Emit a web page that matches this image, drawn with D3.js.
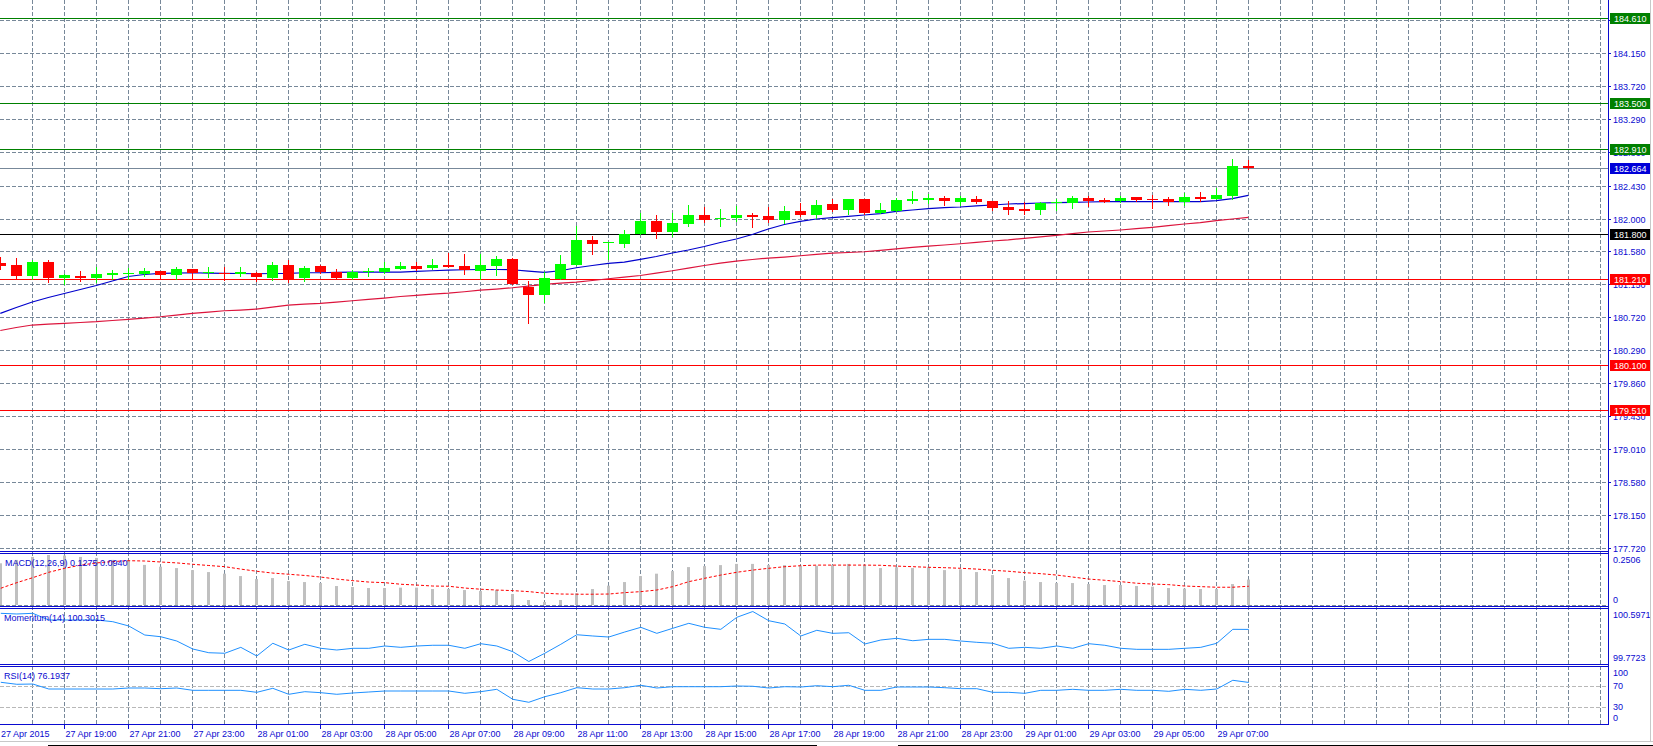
<!DOCTYPE html>
<html><head><meta charset="utf-8">
<script src="https://cdn.jsdelivr.net/npm/d3@7"></script>
<style>
html,body{margin:0;padding:0;background:#fff;overflow:hidden}
svg{display:block;font-family:"Liberation Sans",Arial,sans-serif;font-size:9px}
</style></head><body>
<svg id="c" width="1653" height="746"></svg>
<script>
// ---------------- DATA ----------------
const openP = [181.423,181.396,181.253,181.435,181.231,181.253,181.231,181.266,181.283,181.279,
 181.318,181.266,181.348,181.288,181.288,181.276,181.296,181.231,181.396,181.231,
 181.388,181.305,181.231,181.301,181.305,181.344,181.388,181.361,181.396,181.388,
 181.318,181.388,181.474,181.106,181.006,181.214,181.396,181.722,181.683,181.673,
 181.804,181.969,181.830,181.930,182.047,181.991,182.008,182.047,182.034,181.986,
 182.099,182.047,182.190,182.112,182.255,182.077,182.099,182.229,182.242,182.268,
 182.220,182.255,182.229,182.151,182.125,182.112,182.203,182.199,182.268,182.242,
 182.229,182.281,182.255,182.255,182.212,182.281,182.255,182.298,182.684];
const highP = [181.505,181.491,181.458,181.461,181.276,181.318,181.367,181.331,181.361,181.357,
 181.325,181.370,181.348,181.374,181.374,181.374,181.309,181.439,181.461,181.383,
 181.396,181.344,181.331,181.361,181.439,181.431,181.439,181.474,181.553,181.539,
 181.539,181.513,181.487,181.188,181.309,181.526,181.908,181.774,181.692,181.852,
 182.069,182.047,182.069,182.177,182.151,182.125,182.164,182.069,182.151,182.164,
 182.199,182.242,182.251,182.255,182.255,182.207,182.264,182.359,182.316,182.294,
 182.298,182.298,182.229,182.229,182.222,182.220,182.255,182.294,182.294,182.268,
 182.298,182.281,182.307,182.281,182.339,182.350,182.398,182.775,182.768];
const lowP = [181.341,181.231,181.218,181.179,181.149,181.188,181.179,181.210,181.210,181.253,
 181.210,181.210,181.210,181.236,181.201,181.257,181.188,181.201,181.179,181.192,
 181.292,181.227,181.221,181.257,181.299,181.340,181.338,181.344,181.370,181.283,
 181.210,181.266,181.149,180.646,180.919,181.214,181.396,181.536,181.474,181.634,
 181.800,181.754,181.774,181.904,181.960,181.904,181.965,181.887,181.952,181.939,
 182.038,182.012,182.099,182.060,182.060,182.077,182.099,182.207,182.199,182.177,
 182.177,182.199,182.112,182.064,182.064,182.060,182.112,182.142,182.170,182.216,
 182.216,182.229,182.138,182.177,182.177,182.229,182.255,182.255,182.641];
const closeP = [181.388,181.253,181.435,181.231,181.266,181.231,181.279,181.292,181.292,181.318,
 181.266,181.348,181.296,181.301,181.283,181.309,181.236,181.396,181.210,181.361,
 181.305,181.231,181.305,181.318,181.361,181.388,181.344,181.396,181.370,181.327,
 181.396,181.474,181.149,181.010,181.231,181.409,181.722,181.673,181.692,181.796,
 181.969,181.830,181.943,182.047,181.986,182.008,182.047,182.021,181.986,182.099,
 182.047,182.177,182.112,182.255,182.077,182.112,182.242,182.255,182.268,182.233,
 182.268,182.220,182.142,182.116,182.099,182.203,182.220,182.268,182.229,182.216,
 182.268,182.242,182.246,182.212,182.281,182.255,182.307,182.684,182.664];
const maFast = [180.768,180.844,180.915,180.974,181.026,181.078,181.130,181.188,181.247,181.273,
 181.288,181.292,181.296,181.292,181.288,181.286,181.283,181.286,181.288,181.296,
 181.296,181.301,181.305,181.305,181.305,181.305,181.315,181.322,181.331,181.335,
 181.338,181.338,181.335,181.318,181.301,181.322,181.361,181.390,181.419,181.435,
 181.471,181.507,181.553,181.592,181.637,181.689,181.735,181.793,181.865,181.923,
 181.965,181.995,182.014,182.030,182.047,182.066,182.095,182.112,182.129,182.142,
 182.151,182.166,182.177,182.190,182.196,182.203,182.207,182.212,182.216,182.220,
 182.220,182.220,182.220,182.220,182.220,182.220,182.235,182.261,182.303];
const maSlow = [180.545,180.584,180.616,180.629,180.638,180.649,180.659,180.675,180.690,180.707,
 180.724,180.746,180.768,180.785,180.802,180.811,180.824,180.850,180.876,180.889,
 180.898,180.915,180.932,180.950,180.967,180.987,181.002,181.017,181.030,181.049,
 181.069,181.084,181.101,181.123,181.145,181.162,181.175,181.195,181.218,181.240,
 181.260,181.292,181.322,181.357,181.390,181.422,181.448,181.468,181.487,181.500,
 181.517,181.536,181.550,181.559,181.569,181.588,181.607,181.627,181.643,181.657,
 181.673,181.692,181.709,181.724,181.744,181.763,181.783,181.804,181.826,181.839,
 181.852,181.869,181.887,181.908,181.930,181.949,181.973,181.995,182.017];
const macdMain = [0.209,0.226,0.241,0.2506,0.248,0.241,0.236,0.226,0.222,0.201,
 0.192,0.185,0.175,0.165,0.157,0.145,0.130,0.135,0.120,0.115,
 0.110,0.095,0.090,0.085,0.085,0.087,0.087,0.080,0.080,0.075,
 0.070,0.075,0.055,0.025,0.015,0.025,0.059,0.080,0.097,0.115,
 0.145,0.157,0.170,0.190,0.195,0.200,0.206,0.206,0.200,0.200,
 0.197,0.197,0.200,0.206,0.197,0.185,0.189,0.185,0.189,0.175,
 0.179,0.165,0.150,0.135,0.122,0.115,0.110,0.110,0.105,0.100,
 0.100,0.095,0.092,0.085,0.082,0.080,0.080,0.105,0.1275];
const macdSignal = [0.084,0.112,0.137,0.164,0.184,0.200,0.211,0.218,0.222,0.2205,
 0.2155,0.211,0.204,0.198,0.192,0.180,0.169,0.160,0.154,0.148,
 0.140,0.130,0.122,0.115,0.112,0.104,0.100,0.095,0.094,0.085,
 0.079,0.075,0.072,0.067,0.059,0.055,0.054,0.054,0.055,0.062,
 0.067,0.075,0.092,0.117,0.134,0.150,0.164,0.175,0.184,0.192,
 0.197,0.200,0.200,0.200,0.200,0.199,0.195,0.192,0.189,0.187,
 0.184,0.180,0.174,0.169,0.162,0.157,0.150,0.140,0.130,0.124,
 0.117,0.109,0.105,0.102,0.095,0.092,0.089,0.089,0.094];
const momentum = [100.567,100.556,100.567,100.457,100.457,100.457,100.457,100.429,100.358,100.209,
 100.181,100.110,99.978,99.917,99.908,100.006,99.863,100.073,99.962,100.056,
 99.990,99.962,99.990,99.990,100.028,100.006,100.028,100.040,100.040,99.990,
 100.066,100.028,99.934,99.7723,99.908,100.056,100.214,100.193,100.176,100.259,
 100.336,100.237,100.320,100.402,100.336,100.303,100.501,100.5971,100.445,100.391,
 100.193,100.287,100.237,100.247,100.061,100.127,100.155,100.115,100.138,100.138,
 100.110,100.089,100.073,99.990,100.006,99.990,100.028,99.990,100.066,100.040,
 99.990,99.973,99.973,99.973,99.990,100.006,100.073,100.303,100.3015];
const rsi = [76.5,72.7,73.2,63.7,63.7,63.7,63.7,63.7,65.6,65.6,
 64.3,65.6,61.2,61.2,61.2,61.2,57.4,65.0,53.6,58.6,
 56.7,53.6,56.1,58.0,59.9,59.9,59.9,59.9,59.9,55.5,
 58.6,63.1,44.1,38.4,49.0,56.7,66.2,63.7,63.7,66.2,
 70.8,65.6,68.1,68.1,68.1,68.1,69.4,68.9,65.6,68.1,
 67.5,70.0,68.1,70.8,61.2,61.2,67.5,67.5,67.5,66.2,
 64.3,64.3,57.4,57.4,55.5,61.2,61.2,63.1,61.2,61.2,
 63.1,61.2,61.2,59.3,63.1,61.2,63.7,80.3,76.19];

const priceTicks = ["177.720","178.150","178.580","179.010","179.430","179.860","180.290","180.720",
 "181.150","181.580","182.000","182.430","182.860","183.290","183.720","184.150","184.580"];
const levelValues = [184.610, 183.500, 182.910, 182.664, 181.800, 181.210, 180.100, 179.510];
const levelKinds  = ["g","g","g","bid","k","r","r","r"];
const timeLabelBars = [4,8,12,16,20,24,28,32,36,40,44,48,52,56,60,64,68,72,76];
const timeLabels = ["27 Apr 19:00","27 Apr 21:00","27 Apr 23:00","28 Apr 01:00","28 Apr 03:00",
 "28 Apr 05:00","28 Apr 07:00","28 Apr 09:00","28 Apr 11:00","28 Apr 13:00","28 Apr 15:00",
 "28 Apr 17:00","28 Apr 19:00","28 Apr 21:00","28 Apr 23:00","29 Apr 01:00","29 Apr 03:00",
 "29 Apr 05:00","29 Apr 07:00"];
const firstDateLabel = "27 Apr 2015";
const macdTitle = "MACD(12,26,9) 0.1275 0.0940";
const momTitle = "Momentum(14) 100.3015";
const rsiTitle = "RSI(14) 76.1937";
const macdScaleLabels = ["0.2506","0"];
const momScaleLabels = ["100.5971","99.7723"];
const rsiLevels = [100,70,30,0];

// ---------------- STYLE / LAYOUT ----------------
const AX = "#0a0ad0";
const GRID = "#778899";
const levelStyle = {g:{line:"#008000",box:"#008000"}, bid:{line:"#778899",box:"#0000d8"},
  k:{line:"#000000",box:"#000000"}, r:{line:"#ff0000",box:"#ff0000"}};
const plotR = 1608;
const P = {main:[0,551], macd:[553.5,606], mom:[608.5,664], rsi:[666.5,724]};

const svg = d3.select("#c");
const n = closeP.length;
const idx = d3.range(n);
const x = d3.scaleLinear().domain([0,100]).range([0.3,1600.3]);
const y = d3.scaleLinear().domain([177.72,184.15]).range([547.7,53.3]);
const yMacd = d3.scaleLinear().domain([0,0.2506]).range([605,555]);
const yMom = d3.scaleLinear().domain([99.7723,100.5971]).range([661.5,611.5]);
const yRsi = d3.scaleLinear().domain([0,100]).range([722.45,669.95]);
const xs = i => Math.round(x(i));

const defs = svg.append("defs");
defs.append("clipPath").attr("id","cm").append("rect").attr("x",0).attr("y",0).attr("width",plotR).attr("height",551);
defs.append("clipPath").attr("id","cp").append("rect").attr("x",0).attr("y",0).attr("width",plotR).attr("height",746);

// grid - horizontal (main)
const gGrid = svg.append("g").attr("stroke",GRID).attr("stroke-dasharray","4,2").attr("stroke-width",1).attr("shape-rendering","crispEdges");
priceTicks.forEach(t=>{
  const yy = Math.round(y(+t))+0.5;
  gGrid.append("line").attr("x1",0).attr("x2",plotR).attr("y1",yy).attr("y2",yy);
});
// vertical grid
d3.range(2,101,2).forEach(i=>{
  const xx = xs(i)+0.5;
  gGrid.append("line").attr("x1",xx).attr("x2",xx).attr("y1",0).attr("y2",724);
});
// macd zero line
gGrid.append("line").attr("x1",0).attr("x2",plotR).attr("y1",605.5).attr("y2",605.5);
// rsi levels
[70,30].forEach(v=>{
  const yy = Math.round(yRsi(v))+0.5;
  svg.append("line").attr("x1",0).attr("x2",plotR).attr("y1",yy).attr("y2",yy)
    .attr("stroke","#b8b8b8").attr("stroke-dasharray","4,2").attr("shape-rendering","crispEdges");
});

// level lines
const gLev = svg.append("g").attr("shape-rendering","crispEdges");
levelValues.forEach((v,k)=>{
  const yy = Math.round(y(v))+0.5;
  gLev.append("line").attr("x1",0).attr("x2",plotR).attr("y1",yy).attr("y2",yy)
    .attr("stroke",levelStyle[levelKinds[k]].line).attr("stroke-width",1);
});

// moving averages
const gMain = svg.append("g").attr("clip-path","url(#cm)");
const maLine = arr => d3.line().x(i=>x(i)).y(i=>y(arr[i]));
gMain.append("path").attr("d",maLine(maSlow)(idx)).attr("fill","none").attr("stroke","#dc143c").attr("stroke-width",1.2);
gMain.append("path").attr("d",maLine(maFast)(idx)).attr("fill","none").attr("stroke","#0000cd").attr("stroke-width",1.2);

// candles
idx.forEach(i=>{
  const up = closeP[i] >= openP[i];
  const col = up ? "#00ff00" : "#ff0000";
  const cx = xs(i);
  gMain.append("line").attr("x1",cx+0.5).attr("x2",cx+0.5)
    .attr("y1",Math.round(y(highP[i]))).attr("y2",Math.round(y(lowP[i]))+1)
    .attr("stroke",col).attr("stroke-width",1).attr("shape-rendering","crispEdges");
  const yt = Math.round(y(Math.max(openP[i],closeP[i])));
  const yb = Math.round(y(Math.min(openP[i],closeP[i])));
  gMain.append("rect").attr("x",cx-5).attr("width",11)
    .attr("y",yt).attr("height",Math.max(1,yb-yt))
    .attr("fill",col).attr("shape-rendering","crispEdges");
});

// MACD
const gInd = svg.append("g").attr("clip-path","url(#cp)");
idx.forEach(i=>{
  const yt = yMacd(macdMain[i]);
  gInd.append("rect").attr("x",xs(i)-1).attr("width",3).attr("y",yt).attr("height",yMacd(0)-yt)
    .attr("fill","#c0c0c0");
});
gInd.append("path").attr("d",d3.line().x(i=>x(i)+0.5).y(i=>yMacd(macdSignal[i]))(idx))
  .attr("fill","none").attr("stroke","#ff0000").attr("stroke-width",1).attr("stroke-dasharray","3,2");
// Momentum
gInd.append("path").attr("d",d3.line().x(i=>x(i)+0.5).y(i=>yMom(momentum[i]))(idx))
  .attr("fill","none").attr("stroke","#1e90ff").attr("stroke-width",1);
// RSI
gInd.append("path").attr("d",d3.line().x(i=>x(i)+0.5).y(i=>yRsi(rsi[i]))(idx))
  .attr("fill","none").attr("stroke","#1e90ff").attr("stroke-width",1);

// panel borders
const gB = svg.append("g").attr("stroke",AX).attr("stroke-width",1).attr("shape-rendering","crispEdges");
[551.5,553.5,606.5,608.5,664.5,666.5,724.5].forEach(yy=>{
  gB.append("line").attr("x1",0).attr("x2",plotR+1).attr("y1",yy).attr("y2",yy);
});
gB.append("line").attr("x1",plotR+0.5).attr("x2",plotR+0.5).attr("y1",0).attr("y2",725);

// titles
const txt = (g,xx,yy,s,fill) => g.append("text").attr("x",xx).attr("y",yy).attr("dy","0.35em").attr("fill",fill||AX).text(s);
txt(svg,5,563,macdTitle);
txt(svg,4,617.5,momTitle);
txt(svg,4,675.5,rsiTitle);

// right price axis
const gAx = svg.append("g");
priceTicks.forEach(t=>{
  const yy = Math.round(y(+t))+0.5;
  gAx.append("line").attr("x1",plotR).attr("x2",plotR+3).attr("y1",yy).attr("y2",yy).attr("stroke",AX).attr("shape-rendering","crispEdges");
  txt(gAx,1613,yy,t);
});
// level boxes
levelValues.forEach((v,k)=>{
  const yy = Math.round(y(v))+0.5;
  gAx.append("rect").attr("x",1610).attr("y",yy-5.5).attr("width",40).attr("height",11)
    .attr("fill",levelStyle[levelKinds[k]].box);
  txt(gAx,1614,yy,v.toFixed(3),"#ffffff");
});
// indicator scale labels
txt(gAx,1613,P.macd[0]+6.5,macdScaleLabels[0]);
txt(gAx,1613,P.macd[1]-6.5,macdScaleLabels[1]);
txt(gAx,1613,P.mom[0]+6.8,momScaleLabels[0]);
txt(gAx,1613,P.mom[1]-6.3,momScaleLabels[1]);
rsiLevels.forEach(v=>{
  const yy = Math.min(P.rsi[1]-6, Math.max(P.rsi[0]+6.8, yRsi(v)));
  txt(gAx,1613,yy,String(v));
});

// time axis
const gT = svg.append("g");
txt(gT,1,734.3,firstDateLabel);
timeLabelBars.forEach((b,k)=>{
  const xx = xs(b)+0.5;
  gT.append("line").attr("x1",xx).attr("x2",xx).attr("y1",724).attr("y2",729).attr("stroke",AX).attr("shape-rendering","crispEdges");
  txt(gT,xx+1,734.3,timeLabels[k]);
});

// frame bits
svg.append("line").attr("x1",0).attr("x2",1653).attr("y1",741.5).attr("y2",741.5).attr("stroke","#c8c8c8").attr("shape-rendering","crispEdges");
svg.append("line").attr("x1",48).attr("x2",817).attr("y1",745.5).attr("y2",745.5).attr("stroke","#000").attr("shape-rendering","crispEdges");
svg.append("line").attr("x1",898).attr("x2",1653).attr("y1",745.5).attr("y2",745.5).attr("stroke","#000").attr("shape-rendering","crispEdges");
svg.append("line").attr("x1",1650.5).attr("x2",1650.5).attr("y1",0).attr("y2",742).attr("stroke","#c8c8c8").attr("shape-rendering","crispEdges");
</script>
</body></html>
